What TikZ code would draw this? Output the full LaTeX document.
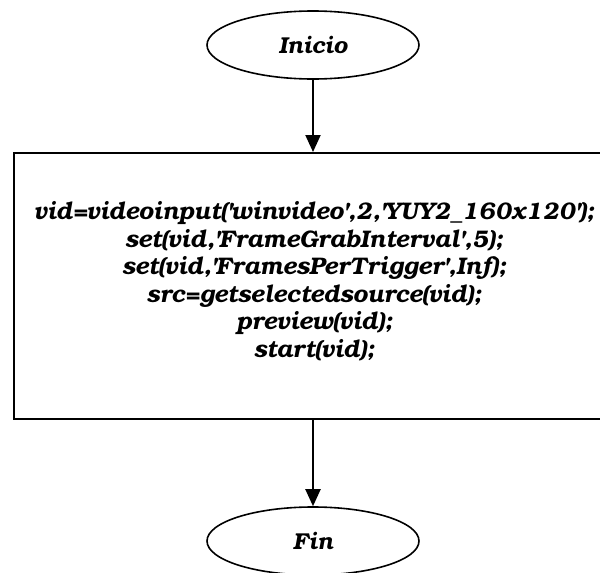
\documentclass[tikz,border=0pt]{standalone}
\usepackage{fontspec}
\setmainfont{TeX Gyre Bonum}[Ligatures=ResetAll]
\usetikzlibrary{shapes.geometric,arrows.meta}
\newcommand{\sq}{\textquotesingle}
\tikzset{
  terminal/.style={draw, ellipse, line width=1.6pt, inner sep=0pt,
    minimum width=212pt, minimum height=68pt,
    font=\fontsize{23}{27}\selectfont\bfseries\itshape},
  process/.style={draw, line width=2pt, inner sep=0pt},
  code/.style={align=center, inner sep=0pt,
    font=\fontsize{24}{27.5}\selectfont\bfseries\itshape},
  flow/.style={line width=2pt, -{Triangle[length=17pt,width=15pt]}}
}
\begin{document}
\begin{tikzpicture}[x=1pt,y=-1pt]
  \useasboundingbox (0,0) rectangle (600,573);
  \node[terminal] (inicio) at (313,45) {Inicio};
  \node[process, minimum width=600pt, minimum height=266pt, anchor=north west] (proc) at (13,152) {};
  \node[code] (txt) at (314,281) {vid=videoinput(\sq winvideo\sq,2,\sq YUY2\_160x120\sq);\\
    set(vid,\sq FrameGrabInterval\sq,5);\\
    set(vid,\sq FramesPerTrigger\sq,Inf);\\
    src=getselectedsource(vid);\\
    preview(vid);\\
    start(vid);};
  \node[terminal] (fin) at (313,541) {Fin};
  \coordinate (ptop) at (313,152);
  \coordinate (pbot) at (313,418);
  \draw[flow] (inicio.south) -- (ptop);
  \draw[flow] (pbot) -- (fin.north);
\end{tikzpicture}
\end{document}
